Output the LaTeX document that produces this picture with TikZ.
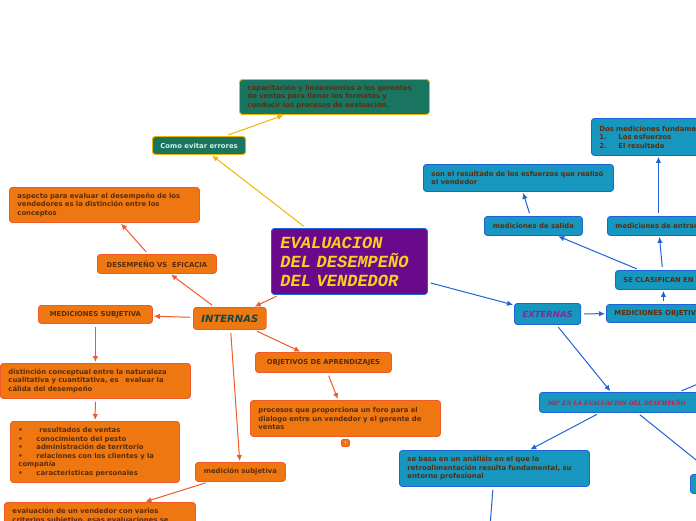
\documentclass[tikz,border=0pt]{standalone}
\usepackage{fontspec}
\setmainfont{DejaVu Sans}
\newfontfamily\monof{Liberation Mono}
\newfontfamily\serf{Liberation Serif}
\usetikzlibrary{arrows.meta}
\definecolor{ofill}{HTML}{EE7711}
\definecolor{oline}{HTML}{F05A28}
\definecolor{gfill}{HTML}{1A7560}
\definecolor{gline}{HTML}{F2B400}
\definecolor{bfill}{HTML}{1797BF}
\definecolor{bline}{HTML}{1F63D8}
\definecolor{tbrown}{HTML}{5A2D0C}
\definecolor{cpurple}{HTML}{6A0A8A}
\definecolor{cyellow}{HTML}{F7D11E}
\definecolor{iteal}{HTML}{0E4848}
\definecolor{epurple}{HTML}{7A2E9A}
\definecolor{tcrim}{HTML}{C8143C}
\definecolor{clight}{HTML}{D2F2E4}
\begin{document}
\begin{tikzpicture}[x=1pt,y=-1pt,
  base/.style={rounded corners=3pt, line width=0.9pt, anchor=north west, inner xsep=8pt, inner ysep=0pt, text=tbrown, font=\fontsize{6.85}{8.5}\selectfont\bfseries},
  obox/.style={base, fill=ofill, draw=oline},
  gbox/.style={base, fill=gfill, draw=gline},
  bbox/.style={base, fill=bfill, draw=bline},
  cbox/.style={base, fill=cpurple, draw=bline, inner xsep=9pt, text=cyellow, font=\monof\bfseries\itshape\fontsize{17}{19}\selectfont},
  tip/.style={-{Latex[length=6pt,width=5.5pt]}, line width=1pt, shorten <=3pt, shorten >=1pt},
  oarr/.style={tip, draw=oline},
  yarr/.style={tip, draw=gline},
  barr/.style={tip, draw=bline},
  bline/.style={line width=1pt, draw=bline, shorten <=3pt}
]
\useasboundingbox (0,0) rectangle (696,520);
\fill[white] (0,0) rectangle (696,520);

% central
\node[cbox, minimum width=156pt, minimum height=66pt, text width=138pt, align=left] (central) at (271,228) {EVALUACION\\DEL DESEMPEÑO\\DEL VENDEDOR};

% green branch
\node[gbox, minimum width=190pt, minimum height=35pt, text width=174pt, align=left] (cap) at (239,79) {capacitación y lineamientos a los gerentes\\de ventas para llenar los formatos y\\conducir los procesos de evaluación.};
\node[gbox, minimum width=93pt, minimum height=18pt, align=center, text=clight] (como) at (152,136) {Como evitar errores};

% orange branch
\node[obox, minimum width=71pt, minimum height=22pt, align=center, text=iteal, font=\fontsize{10}{12}\selectfont\bfseries\itshape] (intern) at (193,307) {INTERNAS};
\node[obox, minimum width=119pt, minimum height=19pt, align=center] (desemp) at (97,254) {DESEMPEÑO VS\ \ EFICACIA};
\node[obox, minimum width=190pt, minimum height=35pt, text width=174pt, align=left] (aspecto) at (9,187) {aspecto para evaluar el desempeño de los\\vendedores es la distinción entre los\\conceptos};
\node[obox, minimum width=114pt, minimum height=18pt, align=center] (medsubj) at (38,305) {MEDICIONES SUBJETIVA};
\node[obox, minimum width=190pt, minimum height=35pt, text width=174pt, align=left] (distinc) at (0,363) {distinción conceptual entre la naturaleza\\cualitativa y cuantitativa, es\ \ \ evaluar la\\cálida del desempeño};
\node[obox, minimum width=169pt, minimum height=61pt, text width=153pt, align=left] (bullets) at (10,421) {\makebox[18pt][l]{•}\hspace{3pt}resultados de ventas\\\makebox[18pt][l]{•}conocimiento del pesto\\\makebox[18pt][l]{•}administración de territorio\\\makebox[18pt][l]{•}relaciones con los clientes y la\\compañía\\\makebox[18pt][l]{•}caracteristicas personales};
\node[obox, minimum width=136pt, minimum height=20pt, align=center] (objet) at (255,352) {OBJETIVOS DE APRENDIZAJES};
\node[obox, minimum width=190pt, minimum height=36pt, text width=174pt, align=left] (proces) at (250,400) {procesos que proporciona un foro para el\\dialogo entre un vendedor y el gerente de\\ventas};
\node[obox, minimum width=8pt, minimum height=7pt, inner xsep=0pt, rounded corners=1.5pt, text=clight, font=\fontsize{4}{4}\selectfont\bfseries] (excl) at (341,439) {!};
\node[obox, minimum width=90pt, minimum height=19pt, align=center] (medsub2) at (195,462) {medición subjetiva};
\node[obox, minimum width=191pt, minimum height=27pt, text width=175pt, align=left] (evalu) at (4,502) {evaluación de un vendedor con varios\\criterios subjetivo, esas evaluaciones se};

% blue branch
\node[bbox, minimum width=66pt, minimum height=21pt, align=center, text=epurple, font=\fontsize{8.5}{10}\selectfont\bfseries\itshape] (extern) at (514,303) {EXTERNAS};
\node[bbox, minimum width=114pt, minimum height=18pt, text width=98pt, align=left] (medobj) at (606,304) {\mbox{MEDICIONES OBJETIVAS}};
\node[bbox, minimum width=96pt, minimum height=19pt, text width=80pt, align=left] (seclas) at (615,270) {\mbox{SE CLASIFICAN EN}};
\node[bbox, minimum width=98pt, minimum height=19pt, align=center] (salida) at (484,216) {mediciones de salida};
\node[bbox, minimum width=102pt, minimum height=19pt, text width=86pt, align=left] (entrada) at (607,216) {\mbox{mediciones de entrada}};
\node[bbox, minimum width=190pt, minimum height=27pt, text width=174pt, align=left] (sonres) at (423,164) {son el resultado de los esfuerzos que realizó\\el vendedor};
\node[bbox, minimum width=134pt, minimum height=37pt, text width=118pt, align=left] (dos) at (591,118) {\mbox{Dos mediciones fundamentales}\\\makebox[19pt][l]{1.}Los esfuerzos\\\makebox[19pt][l]{2.}El resultado};
\node[bbox, minimum width=160pt, minimum height=20pt, text width=144pt, align=left, text=tcrim, font=\serf\bfseries\itshape\fontsize{6.6}{7}\selectfont] (tres) at (539,392) {360° EN LA EVALUACIÓN DEL DESEMPEÑO};
\node[bbox, minimum width=190pt, minimum height=36pt, text width=174pt, align=left] (sebasa) at (399,450) {se basa en un análisis en el que la\\retroalimentación resulta fundamental, su\\entorno profesional};
\node[bbox, minimum width=30pt, minimum height=19pt] (smallb) at (690,474) {};

\coordinate (out1) at (710,379);
\coordinate (out2) at (726,484);
\coordinate (out3) at (489,540);

% connectors
\draw[yarr] (central) -- (como);
\draw[yarr] (como) -- (cap);
\draw[oarr] (central) -- (intern);
\draw[oarr] (intern) -- (desemp);
\draw[oarr] (desemp) -- (aspecto);
\draw[oarr] (intern) -- (medsubj);
\draw[oarr] (medsubj) -- (distinc);
\draw[oarr] (distinc) -- (bullets);
\draw[oarr] (intern) -- (objet);
\draw[oarr] (objet) -- (proces);
\draw[oarr] (intern) -- (medsub2);
\draw[oarr] (medsub2) -- (evalu);
\draw[barr] (central) -- (extern);
\draw[barr] (extern) -- (medobj);
\draw[barr] (medobj) -- (seclas);
\draw[barr] (seclas) -- (salida);
\draw[barr] (seclas) -- (entrada);
\draw[barr] (salida) -- (sonres);
\draw[barr] (entrada) -- (dos);
\draw[barr] (extern) -- (tres);
\draw[barr] (tres) -- (sebasa);
\draw[bline] (tres.10.5) -- (out1);
\draw[bline] (tres.-30) -- (out2);
\draw[bline] (sebasa) -- (out3);
\end{tikzpicture}
\end{document}
